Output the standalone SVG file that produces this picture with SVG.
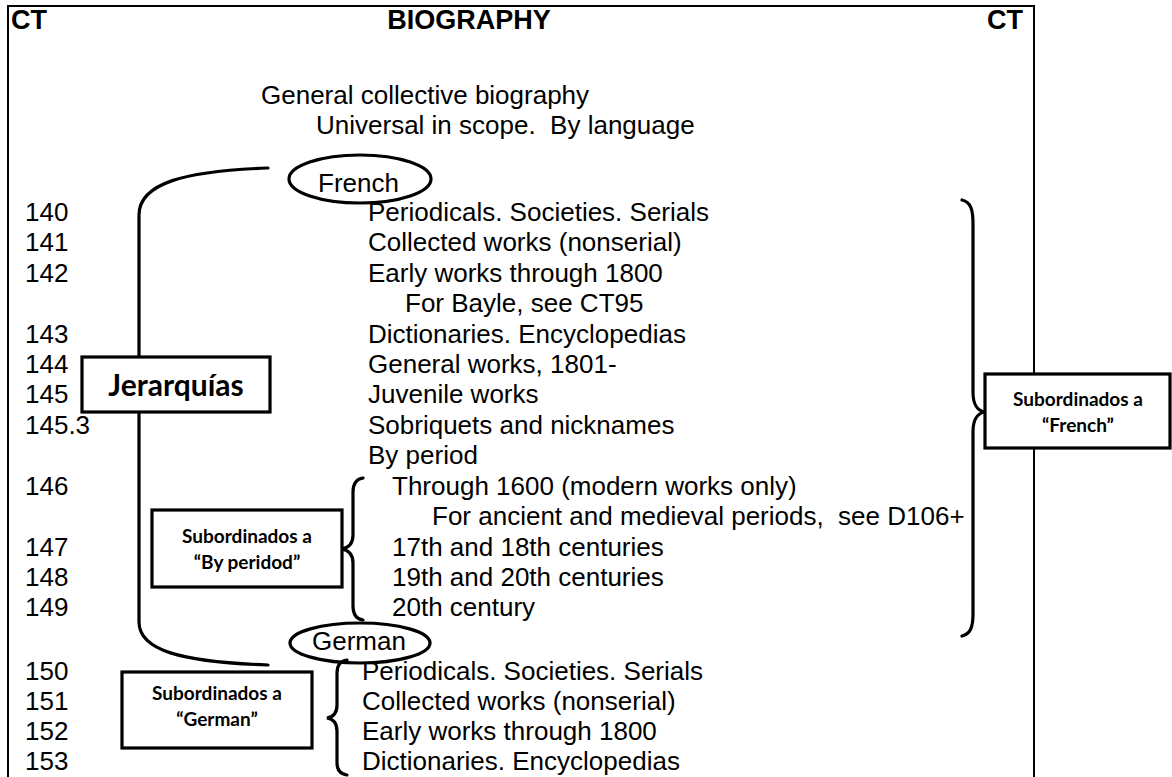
<svg xmlns="http://www.w3.org/2000/svg" width="1172" height="777" viewBox="0 0 1172 777">
<style>
text{font-family:"Liberation Sans",Arial,sans-serif;fill:#000}
.t{font-size:26px;white-space:pre}
.h{font-size:27px;font-weight:bold}
.s{font-family:Lato,"Open Sans",sans-serif;font-weight:bold;font-size:19px;text-anchor:middle}
.j{font-family:Lato,"Open Sans",sans-serif;font-weight:bold;font-size:30px;text-anchor:middle}
.br{fill:none;stroke:#000;stroke-width:3.2;stroke-linecap:round}
.bx{fill:#fff;stroke:#000;stroke-width:3.2}
.el{fill:none;stroke:#000;stroke-width:3.2}
</style>
<rect width="1172" height="777" fill="#fff"/>
<g id="frame" fill="none" stroke="#000" stroke-width="2">
<path d="M8,777 V6 H1034 V777"/>
</g>
<g id="header">
<text class="h" x="11" y="29">CT</text>
<text class="h" x="469" y="29" text-anchor="middle">BIOGRAPHY</text>
<text class="h" x="1023" y="29" text-anchor="end">CT</text>
</g>
<g id="intro">
<text class="t" x="261" y="104">General collective biography</text>
<text class="t" x="316" y="134" xml:space="preserve">Universal in scope.  By language</text>
</g>
<g id="connectors">
<path class="br" d="M268,168 C185,171 139,183 139,215 L139,622 C139,650 180,662 268,665"/>
<path class="br" d="M962,200 C971,202 973,210 973,224 L973,392 C973,405 977,410 984,412 C977,414 973,419 973,432 L973,614 C973,628 970,634 962,636"/>
<path class="br" d="M363,478 C356,479 353,484 353,492 L353,535 C353,543 349,548 341,549 C349,550 353,555 353,563 L353,606 C353,614 356,619 363,620"/>
<path class="br" d="M347,660 C340,661 337,665 337,673 L337,705 C337,713 333,717 327,718 C333,719 337,723 337,731 L337,763 C337,770 340,774 347,775"/>
</g>
<g id="node-french">
<ellipse class="el" cx="360" cy="179" rx="71" ry="24"/>
<text class="t" x="318" y="192">French</text>
</g>
<g id="node-german">
<ellipse class="el" cx="360" cy="643" rx="70" ry="20"/>
<text class="t" x="312" y="650">German</text>
</g>
<g id="numbers">
<text class="t" x="25" y="221">140</text>
<text class="t" x="25" y="251">141</text>
<text class="t" x="25" y="282">142</text>
<text class="t" x="25" y="343">143</text>
<text class="t" x="25" y="373">144</text>
<text class="t" x="25" y="403">145</text>
<text class="t" x="25" y="434">145.3</text>
<text class="t" x="25" y="495">146</text>
<text class="t" x="25" y="556">147</text>
<text class="t" x="25" y="586">148</text>
<text class="t" x="25" y="616">149</text>
<text class="t" x="25" y="680">150</text>
<text class="t" x="25" y="710">151</text>
<text class="t" x="25" y="740">152</text>
<text class="t" x="25" y="770">153</text>
</g>
<g id="french-entries">
<text class="t" x="368" y="221">Periodicals. Societies. Serials</text>
<text class="t" x="368" y="251">Collected works (nonserial)</text>
<text class="t" x="368" y="282">Early works through 1800</text>
<text class="t" x="405" y="312">For Bayle, see CT95</text>
<text class="t" x="368" y="343">Dictionaries. Encyclopedias</text>
<text class="t" x="368" y="373">General works, 1801-</text>
<text class="t" x="368" y="403">Juvenile works</text>
<text class="t" x="368" y="434">Sobriquets and nicknames</text>
<text class="t" x="368" y="464">By period</text>
<text class="t" x="392" y="495">Through 1600 (modern works only)</text>
<text class="t" x="432" y="525">For ancient and medieval periods,  see D106+</text>
<text class="t" x="392" y="556">17th and 18th centuries</text>
<text class="t" x="392" y="586">19th and 20th centuries</text>
<text class="t" x="392" y="616">20th century</text>
</g>
<g id="german-entries">
<text class="t" x="362" y="680">Periodicals. Societies. Serials</text>
<text class="t" x="362" y="710">Collected works (nonserial)</text>
<text class="t" x="362" y="740">Early works through 1800</text>
<text class="t" x="362" y="770">Dictionaries. Encyclopedias</text>
</g>
<g id="node-jerarquias">
<rect class="bx" x="82" y="357" width="188" height="55"/>
<text class="j" x="176" y="396">Jerarquías</text>
</g>
<g id="node-sub-period">
<rect class="bx" x="152" y="510" width="190" height="77"/>
<text class="s" x="247" y="543">Subordinados a</text>
<text class="s" x="247" y="569">“By peridod”</text>
</g>
<g id="node-sub-german">
<rect class="bx" x="122" y="672" width="190" height="76"/>
<text class="s" x="217" y="700">Subordinados a</text>
<text class="s" x="217" y="726">“German”</text>
</g>
<g id="node-sub-french">
<rect class="bx" x="985" y="374" width="185" height="74"/>
<text class="s" x="1078" y="406">Subordinados a</text>
<text class="s" x="1078" y="432">“French”</text>
</g>
</svg>
